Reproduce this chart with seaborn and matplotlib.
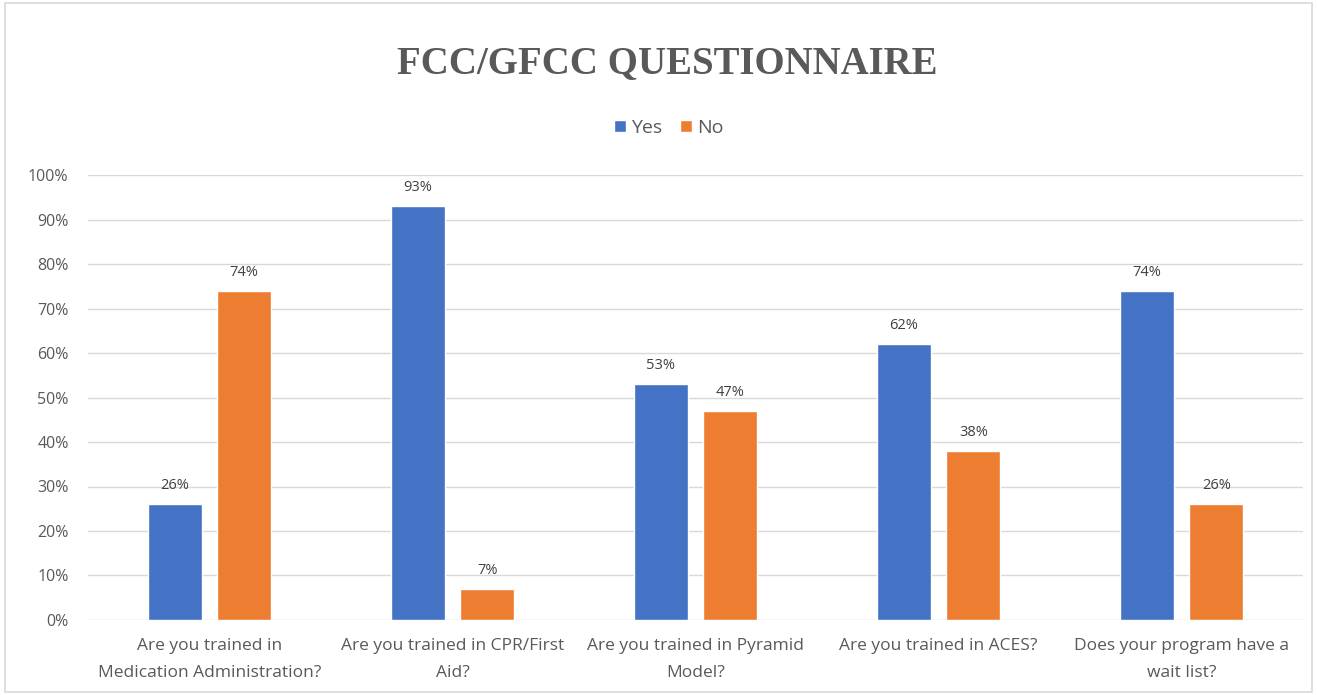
import matplotlib
matplotlib.use("Agg")
import matplotlib.pyplot as plt
import seaborn as sns
import pandas as pd
from matplotlib.patches import Rectangle, Patch

categories = [
    "Are you trained in\nMedication Administration?",
    "Are you trained in CPR/First\nAid?",
    "Are you trained in Pyramid\nModel?",
    "Are you trained in ACES?",
    "Does your program have a\nwait list?",
]
yes_vals = [0.26, 0.93, 0.53, 0.62, 0.74]
no_vals = [0.74, 0.07, 0.47, 0.38, 0.26]
series = ["Yes", "No"]
yticks = [0.0, 0.1, 0.2, 0.3, 0.4, 0.5, 0.6, 0.7, 0.8, 0.9, 1.0]
ytick_labels = ["0%", "10%", "20%", "30%", "40%", "50%", "60%", "70%", "80%", "90%", "100%"]

df = pd.DataFrame({
    "Question": categories * 2,
    "Value": yes_vals + no_vals,
    "Answer": ["Yes"] * len(categories) + ["No"] * len(categories),
})

sns.set_theme(style="white")
plt.rcParams["font.family"] = ["Open Sans", "DejaVu Sans"]

fig = plt.figure(figsize=(13.17, 6.95), dpi=100)
ax = fig.add_axes([0.0668, 0.108, 0.9226, 0.640])

palette = {"Yes": "#4472C4", "No": "#ED7D31"}
sns.barplot(data=df, x="Question", y="Value", hue="Answer", hue_order=series,
            order=categories, palette=palette, width=0.572, gap=0.22,
            saturation=1, ax=ax, legend=False, zorder=3)

ax.set_ylim(0, 1.0)
ax.set_xlim(-0.5, len(categories) - 0.5)
ax.set_yticks(yticks)
ax.set_yticklabels(ytick_labels, fontsize=11.5, color="#595959")
ax.tick_params(axis="x", labelsize=12.5, labelcolor="#595959", length=0, pad=13)
ax.tick_params(axis="y", length=0, pad=14)
for lbl in ax.get_xticklabels():
    lbl.set_linespacing(1.95)
ax.set_xlabel("")
ax.set_ylabel("")
ax.yaxis.grid(True, color="#D9D9D9", linewidth=1, zorder=0)
for s in ax.spines.values():
    s.set_visible(False)

for cont in ax.containers:
    ax.bar_label(cont, labels=[f"{int(round(v*100))}%" for v in cont.datavalues],
                 padding=8, fontsize=10.5, color="#404040")

handles = [Patch(facecolor=palette[s], label=s) for s in series]
fig.legend(handles=handles, loc="center", bbox_to_anchor=(0.508, 0.816), ncol=2,
           frameon=False, fontsize=14, handlelength=0.6, handleheight=0.6,
           handletextpad=0.3, columnspacing=0.9, labelcolor="#595959")

fig.text(0.507, 0.908, "FCC/GFCC QUESTIONNAIRE", ha="center", va="center",
         fontsize=28, fontweight="bold", color="#595959", family="Liberation Serif")

fig.patches.append(Rectangle((0.004, 0.004), 0.992, 0.992, transform=fig.transFigure,
                             fill=False, edgecolor="#D9D9D9", linewidth=1.2))

fig.savefig("out.png", dpi=100, facecolor="white")
